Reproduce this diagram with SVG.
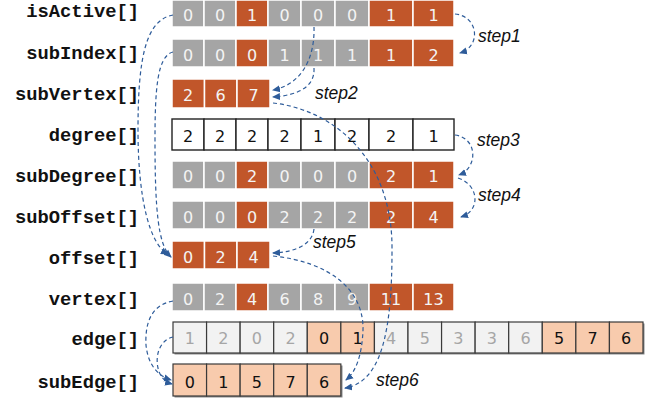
<svg xmlns="http://www.w3.org/2000/svg" width="657" height="402" viewBox="0 0 657 402">
<style>
.lbl{font-family:"Liberation Mono","Courier New",monospace;font-weight:bold;font-size:18.8px;fill:#111;text-anchor:end}
.g{fill:#a5a5a5;stroke:#fff;stroke-width:1.5}
.o{fill:#c1562a;stroke:#fff;stroke-width:1.5}
.w{fill:#fff;stroke:#222;stroke-width:1.4}
.l{fill:#f2f2f2;stroke:#3a3a3a;stroke-width:1.2}
.p{fill:#f8cbad;stroke:#3a3a3a;stroke-width:1.2}
.sh{fill:#8a8a8a}
.t{font-family:"DejaVu Sans",sans-serif;font-size:16px;text-anchor:middle;fill:#f4f4f4}
.tk{font-family:"DejaVu Sans",sans-serif;font-size:16px;text-anchor:middle;fill:#111}
.tg{font-family:"DejaVu Sans",sans-serif;font-size:16px;text-anchor:middle;fill:#a6a6a6}
.step{font-family:"Liberation Sans",Arial,sans-serif;font-style:italic;font-size:17.5px;fill:#111}
.c{fill:none;stroke:#2e5c9a;stroke-width:1.2;stroke-dasharray:4 3}
</style>
<defs>
<marker id="ah" markerWidth="8" markerHeight="8" refX="7" refY="4" orient="auto" markerUnits="userSpaceOnUse">
<path d="M0,0.5 L8,4 L0,7.5 Z" fill="#2e5c9a"/>
</marker>
</defs>

<g id="isActive">
<text class="lbl" x="139" y="17">isActive[]</text>
<rect class="g" x="172" y="0" width="32" height="27"/><rect class="g" x="204" y="0" width="32" height="27"/><rect class="o" x="236" y="0" width="32" height="27"/><rect class="g" x="268" y="0" width="33" height="27"/><rect class="g" x="301" y="0" width="34" height="27"/><rect class="g" x="335" y="0" width="34" height="27"/><rect class="o" x="369" y="0" width="44" height="27"/><rect class="o" x="413" y="0" width="41" height="27"/>
<text class="t" x="188" y="20.5">0</text><text class="t" x="220" y="20.5">0</text><text class="t" x="252" y="20.5">1</text><text class="t" x="284.5" y="20.5">0</text><text class="t" x="318" y="20.5">0</text><text class="t" x="352" y="20.5">0</text><text class="t" x="391" y="20.5">1</text><text class="t" x="433.5" y="20.5">1</text>
</g>

<g id="subIndex">
<text class="lbl" x="139" y="58.5">subIndex[]</text>
<rect class="g" x="172" y="39" width="32" height="28"/><rect class="g" x="204" y="39" width="32" height="28"/><rect class="o" x="236" y="39" width="32" height="28"/><rect class="g" x="268" y="39" width="33" height="28"/><rect class="g" x="301" y="39" width="34" height="28"/><rect class="g" x="335" y="39" width="34" height="28"/><rect class="o" x="369" y="39" width="44" height="28"/><rect class="o" x="413" y="39" width="41" height="28"/>
<text class="t" x="188" y="61">0</text><text class="t" x="220" y="61">0</text><text class="t" x="252" y="61">0</text><text class="t" x="284.5" y="61">1</text><text class="t" x="318" y="61">1</text><text class="t" x="352" y="61">1</text><text class="t" x="391" y="61">1</text><text class="t" x="433.5" y="61">2</text>
</g>

<g id="subVertex">
<text class="lbl" x="139" y="100">subVertex[]</text>
<rect class="o" x="172" y="79" width="32.5" height="29"/><rect class="o" x="204.5" y="79" width="32.5" height="29"/><rect class="o" x="237" y="79" width="33" height="29"/>
<text class="t" x="188" y="101">2</text><text class="t" x="220.5" y="101">6</text><text class="t" x="253.5" y="101">7</text>
</g>

<g id="degree">
<text class="lbl" x="139" y="141">degree[]</text>
<rect class="w" x="172" y="119" width="32" height="31"/><rect class="w" x="204" y="119" width="32" height="31"/><rect class="w" x="236" y="119" width="32" height="31"/><rect class="w" x="268" y="119" width="33" height="31"/><rect class="w" x="301" y="119" width="34" height="31"/><rect class="w" x="335" y="119" width="34" height="31"/><rect class="w" x="369" y="119" width="44" height="31"/><rect class="w" x="413" y="119" width="41" height="31"/>
<text class="tk" x="188" y="142">2</text><text class="tk" x="220" y="142">2</text><text class="tk" x="252" y="142">2</text><text class="tk" x="284.5" y="142">2</text><text class="tk" x="318" y="142">1</text><text class="tk" x="352" y="142">2</text><text class="tk" x="391" y="142">2</text><text class="tk" x="433.5" y="142">1</text>
</g>

<g id="subDegree">
<text class="lbl" x="139" y="182">subDegree[]</text>
<rect class="g" x="172" y="161" width="32" height="28"/><rect class="g" x="204" y="161" width="32" height="28"/><rect class="o" x="236" y="161" width="32" height="28"/><rect class="g" x="268" y="161" width="33" height="28"/><rect class="g" x="301" y="161" width="34" height="28"/><rect class="g" x="335" y="161" width="34" height="28"/><rect class="o" x="369" y="161" width="44" height="28"/><rect class="o" x="413" y="161" width="41" height="28"/>
<text class="t" x="188" y="182">0</text><text class="t" x="220" y="182">0</text><text class="t" x="252" y="182">2</text><text class="t" x="284.5" y="182">0</text><text class="t" x="318" y="182">0</text><text class="t" x="352" y="182">0</text><text class="t" x="391" y="182">2</text><text class="t" x="433.5" y="182">1</text>
</g>

<g id="subOffset">
<text class="lbl" x="139" y="223">subOffset[]</text>
<rect class="g" x="172" y="201" width="32" height="28"/><rect class="g" x="204" y="201" width="32" height="28"/><rect class="o" x="236" y="201" width="32" height="28"/><rect class="g" x="268" y="201" width="33" height="28"/><rect class="g" x="301" y="201" width="34" height="28"/><rect class="g" x="335" y="201" width="34" height="28"/><rect class="o" x="369" y="201" width="44" height="28"/><rect class="o" x="413" y="201" width="41" height="28"/>
<text class="t" x="188" y="222.5">0</text><text class="t" x="220" y="222.5">0</text><text class="t" x="252" y="222.5">0</text><text class="t" x="284.5" y="222.5">2</text><text class="t" x="318" y="222.5">2</text><text class="t" x="352" y="222.5">2</text><text class="t" x="391" y="222.5">2</text><text class="t" x="433.5" y="222.5">4</text>
</g>

<g id="offset">
<text class="lbl" x="139" y="264">offset[]</text>
<rect class="o" x="172" y="241" width="32.5" height="28"/><rect class="o" x="204.5" y="241" width="32.5" height="28"/><rect class="o" x="237" y="241" width="33" height="28"/>
<text class="t" x="188" y="263">0</text><text class="t" x="220.5" y="263">2</text><text class="t" x="253.5" y="263">4</text>
</g>

<g id="vertex">
<text class="lbl" x="139" y="305">vertex[]</text>
<rect class="g" x="172" y="283" width="32" height="28"/><rect class="g" x="204" y="283" width="32" height="28"/><rect class="o" x="236" y="283" width="32" height="28"/><rect class="g" x="268" y="283" width="33" height="28"/><rect class="g" x="301" y="283" width="34" height="28"/><rect class="g" x="335" y="283" width="34" height="28"/><rect class="o" x="369" y="283" width="44" height="28"/><rect class="o" x="413" y="283" width="41" height="28"/>
<text class="t" x="188" y="305">0</text><text class="t" x="220" y="305">2</text><text class="t" x="252" y="305">4</text><text class="t" x="284.5" y="305">6</text><text class="t" x="318" y="305">8</text><text class="t" x="352" y="305">9</text><text class="t" x="391" y="305">11</text><text class="t" x="433.5" y="305">13</text>
</g>

<g id="edge">
<text class="lbl" x="139" y="345">edge[]</text>
<rect class="sh" x="174.5" y="323.5" width="470" height="31"/>
<rect class="l" x="173" y="322" width="33.57" height="31"/><rect class="l" x="206.57" y="322" width="33.57" height="31"/><rect class="l" x="240.14" y="322" width="33.57" height="31"/><rect class="l" x="273.71" y="322" width="33.57" height="31"/><rect class="p" x="307.29" y="322" width="33.57" height="31"/><rect class="p" x="340.86" y="322" width="33.57" height="31"/><rect class="l" x="374.43" y="322" width="33.57" height="31"/><rect class="l" x="408" y="322" width="33.57" height="31"/><rect class="l" x="441.57" y="322" width="33.57" height="31"/><rect class="l" x="475.14" y="322" width="33.57" height="31"/><rect class="l" x="508.71" y="322" width="33.57" height="31"/><rect class="p" x="542.29" y="322" width="33.57" height="31"/><rect class="p" x="575.86" y="322" width="33.57" height="31"/><rect class="p" x="609.43" y="322" width="33.57" height="31"/>
<text class="tg" x="189.8" y="344">1</text><text class="tg" x="223.4" y="344">2</text><text class="tg" x="256.9" y="344">0</text><text class="tg" x="290.5" y="344">2</text><text class="tk" x="324.1" y="344">0</text><text class="tk" x="357.6" y="344">1</text><text class="tg" x="391.2" y="344">4</text><text class="tg" x="424.8" y="344">5</text><text class="tg" x="458.4" y="344">3</text><text class="tg" x="491.9" y="344">3</text><text class="tg" x="525.5" y="344">6</text><text class="tk" x="559.1" y="344">5</text><text class="tk" x="592.6" y="344">7</text><text class="tk" x="626.2" y="344">6</text>
</g>

<g id="subEdge">
<text class="lbl" x="139" y="388">subEdge[]</text>
<rect class="sh" x="174.5" y="365.5" width="168" height="32"/>
<rect class="p" x="173" y="364" width="33.57" height="32"/><rect class="p" x="206.57" y="364" width="33.57" height="32"/><rect class="p" x="240.14" y="364" width="33.57" height="32"/><rect class="p" x="273.71" y="364" width="33.57" height="32"/><rect class="p" x="307.29" y="364" width="33.57" height="32"/>
<text class="tk" x="189.8" y="388">0</text><text class="tk" x="223.4" y="388">1</text><text class="tk" x="256.9" y="388">5</text><text class="tk" x="290.5" y="388">7</text><text class="tk" x="324.1" y="388">6</text>
</g>

<g id="steps">
<text class="step" x="478" y="42">step1</text>
<text class="step" x="315" y="99">step2</text>
<text class="step" x="477" y="146">step3</text>
<text class="step" x="478" y="201">step4</text>
<text class="step" x="313" y="248">step5</text>
<text class="step" x="376" y="386">step6</text>
</g>

<g id="connectors">
<path class="c" marker-end="url(#ah)" d="M455 14 C478 16 482 46 460 53"/>
<path class="c" marker-end="url(#ah)" d="M314 27 C315 60 300 85 273 90"/>
<path class="c" marker-end="url(#ah)" d="M314 68 C315 86 300 95 273 97"/>
<path class="c" marker-end="url(#ah)" d="M455 135 C478 138 478 168 459 175"/>
<path class="c" marker-end="url(#ah)" d="M458 178 C478 184 482 210 461 217"/>
<path class="c" marker-end="url(#ah)" d="M314 229 C312 245 295 252 273 253"/>
<path class="c" marker-end="url(#ah)" d="M173 15 C145 20 138 60 138 130 C138 200 150 245 168 254"/>
<path class="c" marker-end="url(#ah)" d="M173 52 C157 56 155 90 155 140 C155 210 158 245 171 257"/>
<path class="c" marker-end="url(#ah)" d="M173 301 C150 305 145 325 146 345 C148 365 158 376 171 380"/>
<path class="c" marker-end="url(#ah)" d="M173 337 C160 340 155 355 158 368 C160 377 165 382 172 384"/>
<path class="c" marker-end="url(#ah)" d="M273 103 C335 110 393 160 392 250 C392 330 382 382 345 388"/>
<path class="c" marker-end="url(#ah)" d="M273 256 C330 262 364 290 363 330 C362 355 356 372 346 380"/>
</g>
</svg>
